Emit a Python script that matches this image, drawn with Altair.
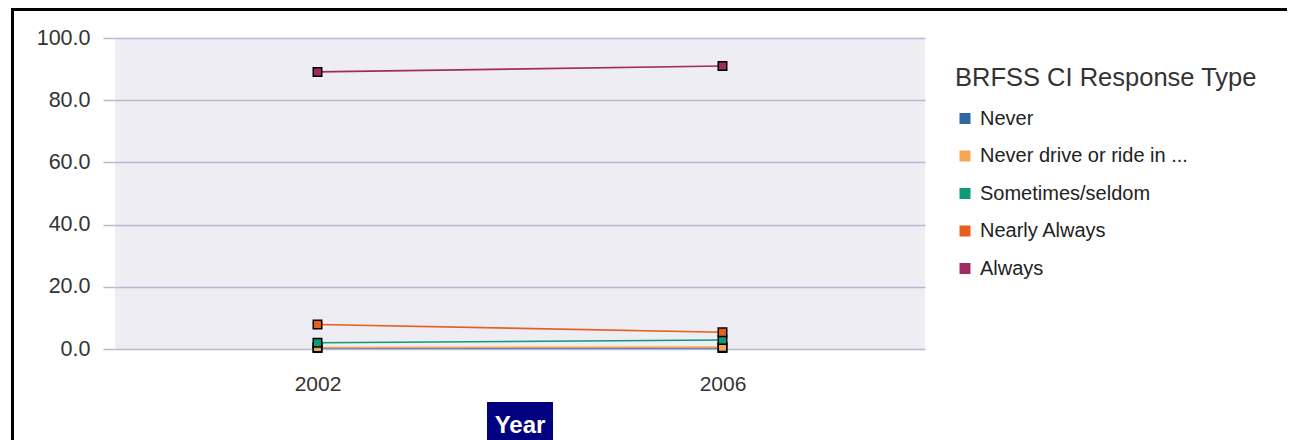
import altair as alt
import pandas as pd

years = ["2002", "2006"]
series = ["Never", "Never drive or ride in ...", "Sometimes/seldom", "Nearly Always", "Always"]
never = [0.3, 0.3]
never_drive = [0.5, 0.6]
sometimes = [2.0, 2.9]
nearly_always = [7.9, 5.4]
always = [89.1, 91.0]
colors = ["#2f66a3", "#f7a654", "#0d9a77", "#e5601e", "#a02b64"]
y_ticks = [0, 20, 40, 60, 80, 100]

rows = []
for name, vals in zip(series, [never, never_drive, sometimes, nearly_always, always]):
    for yr, v in zip(years, vals):
        rows.append({"Year": yr, "Type": name, "Value": v, "order": series.index(name)})
df = pd.DataFrame(rows)

W, H = 810, 311
SVG_W, SVG_H = 1279, 432
PL, PT = 107, 30
FONT = "Liberation Sans"

x_enc = alt.X("Year:O", scale=alt.Scale(type="point", padding=0.5),
              axis=alt.Axis(title=None, labelAngle=0, ticks=False, domain=False, grid=False,
                            labelFontSize=21, labelColor="#333333", labelPadding=24, labelFont=FONT))
y_enc = alt.Y("Value:Q", scale=alt.Scale(domain=[0, 100], nice=False),
              axis=alt.Axis(title=None, values=y_ticks, format=".1f", grid=True, gridColor="#b9b8d2",
                            gridWidth=1.5, tickColor="#b9b8d2", tickWidth=1.5, tickSize=12, domain=False,
                            labelFontSize=21.5, labelColor="#333333", labelPadding=13, labelFont=FONT))
legend = alt.Legend(title="BRFSS CI Response Type", orient="none",
                    legendX=840, legendY=28, symbolType="square",
                    symbolSize=90, symbolOpacity=1,
                    titleFontSize=25.5, titleFontWeight="normal", titleLimit=600,
                    titleColor="#333333", titleFont=FONT, labelFont=FONT,
                    labelFontSize=20, labelColor="#222222", rowPadding=17.5,
                    titlePadding=17, labelOffset=5, labelLimit=400,
                    symbolStrokeColor="black", symbolStrokeWidth=1.5)
color_enc = alt.Color("Type:N", scale=alt.Scale(domain=series, range=colors), legend=legend)

base = alt.Chart(df)
lines = base.mark_line(strokeWidth=1.6).encode(
    x=x_enc, y=y_enc, color=color_enc,
    order=alt.Order("Year:O"), detail="Type:N")
points = base.mark_point(shape="square", filled=True, size=72, stroke="black", strokeWidth=1.5,
                         opacity=1).encode(
    x=x_enc, y=y_enc, color=color_enc,
    order=alt.Order("order:Q"))

deco = pd.DataFrame({"k": [0]})
top_rule = alt.Chart(deco).mark_rule(stroke="black", strokeWidth=3).encode(
    x=alt.value(-PL + 3), x2=alt.value(SVG_W - PL), y=alt.value(-PT + 1.5))
left_rule = alt.Chart(deco).mark_rule(stroke="black", strokeWidth=3).encode(
    x=alt.value(-PL + 4.5), y=alt.value(-PT), y2=alt.value(SVG_H - PT))
year_box = alt.Chart(deco).mark_rect(fill="#000080").encode(
    x=alt.value(372), x2=alt.value(438), y=alt.value(364), y2=alt.value(SVG_H - PT))
year_text = alt.Chart(deco).mark_text(text="Year", font=FONT, fontSize=24, fontWeight="bold",
                                      color="white", align="center", baseline="alphabetic").encode(
    x=alt.value(405), y=alt.value(395))

chart = alt.layer(lines, points, top_rule, left_rule, year_box, year_text).properties(
    width=W, height=H,
    autosize=alt.AutoSizeParams(type="none"),
    padding={"left": PL, "top": PT, "right": SVG_W - PL - W, "bottom": SVG_H - PT - H},
    background="white",
).configure_view(fill="#eeedf3", stroke=None)

chart.save("out.html", embed_options={"renderer": "svg", "actions": False})
